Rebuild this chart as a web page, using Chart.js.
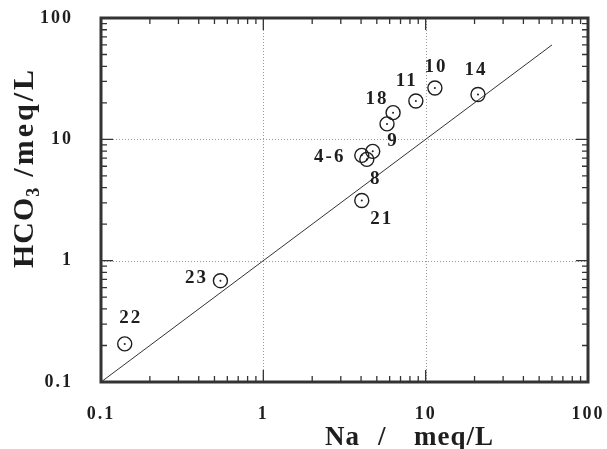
<!DOCTYPE html>
<html>
<head>
<meta charset="utf-8">
<title>HCO3 vs Na</title>
<script src="https://cdn.jsdelivr.net/npm/chart.js@4.4.1/dist/chart.umd.min.js"></script>
<style>
  html, body { margin: 0; padding: 0; background: #fff; }
  #wrap { width: 607px; height: 449px; }
</style>
</head>
<body>
<div id="wrap"><canvas id="naChart" width="607" height="449"></canvas></div>
<script>
// ===== DADOS =====
const tickValues = [0.1, 1, 10, 100];
const tickLabels = ["0.1", "1", "10", "100"];
const gridValues = [1, 10];
const naValues   = [0.140, 0.544, 4.04, 4.04, 4.34, 4.72, 5.78, 6.30, 8.70, 11.4, 21.0];
const hco3Values = [0.206, 0.684, 3.13, 7.38, 6.84, 7.96, 13.4, 16.6, 20.7, 26.5, 23.4];
const sampleLabels = ["22", "23", "21", "4-6", "8", "", "9", "18", "11", "10", "14"];
const lineEnds = [0.1, 60];

// deslocamento (px) de cada rótulo em relação ao ponto
const labelOffsets = [[6, -26], [-24, -3], [20, 19], [-32, 2], [9, 20], null,
                      [6, 17], [-16, -14], [-9, -20], [1, -21], [-2, -24]];

const INK = "#1e1e1e";
const SERIF = "'Liberation Serif', 'DejaVu Serif', serif";

const points = naValues.map((x, i) => ({ x: x, y: hco3Values[i] }));
const linePts = lineEnds.map(v => ({ x: v, y: v }));

// ===== PLUGIN: grade, moldura, ticks internos, rótulos e títulos =====
const framePlugin = {
  id: "frame",
  beforeDraw(chart) {
    // espaçamento entre letras também nos rótulos dos eixos
    chart.ctx.letterSpacing = "2px";
  },
  beforeDatasetsDraw(chart) {
    const { ctx, chartArea: a, scales } = chart;
    ctx.save();
    ctx.strokeStyle = "#9a9a9a";
    ctx.lineWidth = 1;
    ctx.setLineDash([1, 2]);
    gridValues.forEach(v => {
      const px = Math.round(scales.x.getPixelForValue(v)) + 0.5;
      const py = Math.round(scales.y.getPixelForValue(v)) + 0.5;
      ctx.beginPath(); ctx.moveTo(px, a.top); ctx.lineTo(px, a.bottom); ctx.stroke();
      ctx.beginPath(); ctx.moveTo(a.left, py); ctx.lineTo(a.right, py); ctx.stroke();
    });
    ctx.restore();
  },
  afterDraw(chart) {
    const { ctx, chartArea: a, scales } = chart;
    ctx.save();
    ctx.strokeStyle = "#333";

    // ticks internos (maiores nas décadas)
    ctx.lineWidth = 1.3;
    for (let d = 0.1; d < 99; d *= 10) {
      for (let m = 1; m <= 9; m++) {
        const v = d * m;
        const len = m === 1 ? 12 : 6;
        const px = scales.x.getPixelForValue(v);
        const py = scales.y.getPixelForValue(v);
        ctx.beginPath();
        ctx.moveTo(px, a.bottom); ctx.lineTo(px, a.bottom - len);
        ctx.moveTo(px, a.top); ctx.lineTo(px, a.top + len);
        ctx.moveTo(a.left, py); ctx.lineTo(a.left + len, py);
        ctx.moveTo(a.right, py); ctx.lineTo(a.right - len, py);
        ctx.stroke();
      }
    }

    // moldura
    ctx.lineWidth = 3;
    ctx.strokeRect(a.left, a.top, a.right - a.left, a.bottom - a.top);

    // rótulos das amostras
    ctx.fillStyle = INK;
    ctx.font = "bold 19px " + SERIF;
    ctx.letterSpacing = "2px";
    ctx.textAlign = "center";
    ctx.textBaseline = "middle";
    const meta = chart.getDatasetMeta(1);
    sampleLabels.forEach((t, i) => {
      if (!t || !labelOffsets[i]) return;
      const el = meta.data[i];
      ctx.fillText(t, el.x + labelOffsets[i][0], el.y + labelOffsets[i][1]);
    });

    // título eixo x
    ctx.textAlign = "left";
    ctx.textBaseline = "alphabetic";
    ctx.letterSpacing = "1px";
    ctx.font = "bold 27px " + SERIF;
    const bx = a.left + 224, by = 445;
    ctx.fillText("Na", bx, by);
    ctx.fillText("/", bx + 53, by);
    ctx.fillText("meq/L", bx + 89, by);

    // título eixo y (rotacionado)
    ctx.translate(33, 268);
    ctx.rotate(-Math.PI / 2);
    ctx.font = "bold 30px " + SERIF;
    ctx.letterSpacing = "1px";
    ctx.fillText("HCO", 0, 0);
    let w = ctx.measureText("HCO").width;
    ctx.font = "bold 18px " + SERIF;
    ctx.fillText("3", w, 6);
    w += ctx.measureText("3").width + 10;
    ctx.font = "bold 30px " + SERIF;
    ctx.letterSpacing = "3px";
    ctx.fillText("/meq/L", w, 0);
    ctx.restore();
  }
};

function fixedTicks(scale) {
  scale.ticks = tickValues.map(v => ({ value: v }));
}

const tickFont = { family: SERIF, size: 18, weight: "bold" };

new Chart(document.getElementById("naChart"), {
  type: "scatter",
  data: {
    datasets: [
      {
        data: linePts,
        showLine: true,
        borderColor: "#333",
        borderWidth: 1,
        pointRadius: 0,
        order: 3
      },
      {
        data: points,
        pointStyle: "circle",
        pointRadius: 7,
        pointBorderWidth: 1.4,
        pointBorderColor: INK,
        pointBackgroundColor: "rgba(0,0,0,0)",
        order: 2
      },
      {
        data: points,
        pointRadius: 1,
        pointBorderWidth: 0,
        pointBackgroundColor: INK,
        order: 1
      }
    ]
  },
  plugins: [framePlugin],
  options: {
    responsive: false,
    animation: false,
    events: [],
    layout: { padding: { left: 0, right: 19, top: 18, bottom: 0 } },
    plugins: { legend: { display: false }, tooltip: { enabled: false } },
    scales: {
      x: {
        type: "logarithmic",
        min: 0.1,
        max: 100,
        afterBuildTicks: fixedTicks,
        afterFit: s => { s.height = 67; s.paddingLeft = 0; s.paddingRight = 0; },
        grid: { display: false },
        border: { display: false },
        ticks: {
          autoSkip: false,
          maxRotation: 0,
          padding: 14,
          color: INK,
          font: tickFont,
          callback: (v, i) => tickLabels[i]
        }
      },
      y: {
        type: "logarithmic",
        min: 0.1,
        max: 100,
        afterBuildTicks: fixedTicks,
        afterFit: s => { s.width = 101; s.paddingTop = 0; s.paddingBottom = 0; },
        grid: { display: false },
        border: { display: false },
        ticks: {
          autoSkip: false,
          padding: 20,
          color: INK,
          font: tickFont,
          callback: (v, i) => tickLabels[i]
        }
      }
    }
  }
});
</script>
</body>
</html>
